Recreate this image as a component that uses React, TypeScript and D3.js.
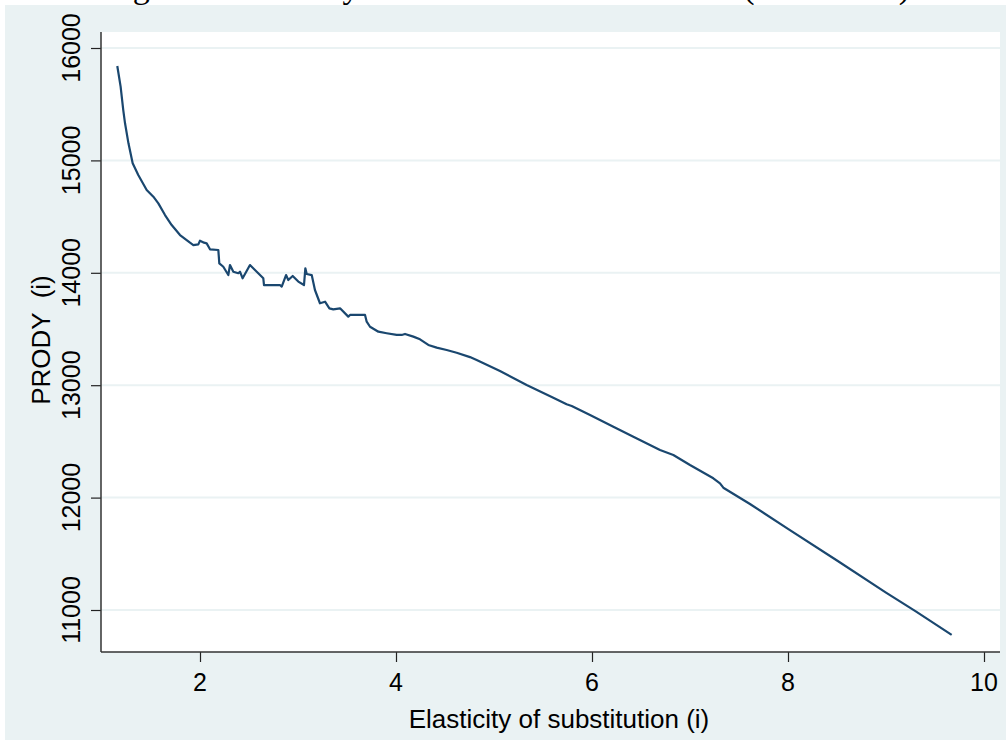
import React, { useEffect, useRef } from "react";
import * as d3 from "d3";

// values
const elasticity = [
  1.156, 1.19, 1.217, 1.235, 1.27, 1.313, 1.37, 1.456, 1.524, 1.575, 1.643,
  1.711, 1.796, 1.898, 1.932, 1.983, 2.0, 2.041, 2.068, 2.102, 2.187, 2.197,
  2.238, 2.289, 2.306, 2.34, 2.391, 2.408, 2.435, 2.51, 2.579, 2.646, 2.653,
  2.816, 2.834, 2.878, 2.901, 2.946, 3.003, 3.061, 3.075, 3.089, 3.14, 3.173,
  3.224, 3.276, 3.32, 3.36, 3.429, 3.513, 3.531, 3.684, 3.701, 3.735, 3.82,
  3.905, 4.007, 4.058, 4.092, 4.177, 4.245, 4.33, 4.415, 4.517, 4.619, 4.755,
  4.823, 5.061, 5.333, 5.605, 5.741, 5.793, 5.98, 6.218, 6.422, 6.694, 6.83,
  7.0, 7.238, 7.306, 7.34, 7.612, 8.0, 8.5, 9.0, 9.3, 9.67,
];
const prody = [
  15840, 15656, 15448, 15330, 15152, 14974, 14870, 14737, 14677, 14618, 14514,
  14425, 14336, 14268, 14247, 14253, 14286, 14268, 14262, 14209, 14203, 14084,
  14054, 13980, 14069, 14010, 13996, 14010, 13951, 14069, 14010, 13951, 13891,
  13891, 13877, 13980, 13936, 13972, 13922, 13891, 14040, 13989, 13980, 13847,
  13729, 13743, 13684, 13675, 13684, 13610, 13625, 13625, 13565, 13520, 13476,
  13462, 13447, 13447, 13456, 13432, 13408, 13358, 13334, 13313, 13289, 13250,
  13224, 13126, 13002, 12889, 12830, 12815, 12735, 12631, 12542, 12423, 12379,
  12290, 12172, 12127, 12088, 11943, 11722, 11440, 11155, 10990, 10778,
];
const xTicks = [2, 4, 6, 8, 10];
const yTicks = [11000, 12000, 13000, 14000, 15000, 16000];

const W = 1006;
const H = 740;

export default function App() {
  const svgRef = useRef<SVGSVGElement>(null);

  useEffect(() => {
    const svg = d3.select(svgRef.current);
    svg.selectAll("*").remove();

    const left = 101;
    const right = 1000;
    const top = 32;
    const bottom = 652;

    const x = d3.scaleLinear().domain([2, 10]).range([200, 984]);
    const y = d3.scaleLinear().domain([11000, 16000]).range([610, 48]);

    // cut-off caption line from the page above the figure
    svg
      .append("text")
      .attr("x", 105)
      .attr("y", -2.5)
      .attr("font-family", "Liberation Serif, serif")
      .attr("font-size", 34)
      .attr("textLength", 805)
      .attr("lengthAdjust", "spacing")
      .text("Figure 3: Elasticity of substitution and PRODY (2000-2007)");

    // graph region background
    svg
      .append("rect")
      .attr("x", 5)
      .attr("y", 5)
      .attr("width", W - 5)
      .attr("height", H - 5)
      .attr("fill", "#eaf2f3");

    // plot region
    svg
      .append("rect")
      .attr("x", left)
      .attr("y", top)
      .attr("width", right - left)
      .attr("height", bottom - top)
      .attr("fill", "#ffffff");

    // grid lines
    svg
      .append("g")
      .selectAll("line")
      .data(yTicks)
      .join("line")
      .attr("x1", left)
      .attr("x2", right)
      .attr("y1", (d) => y(d))
      .attr("y2", (d) => y(d))
      .attr("stroke", "#eaf2f3")
      .attr("stroke-width", 2);

    // y axis
    const yAxis = d3
      .axisLeft(y)
      .tickValues(yTicks)
      .tickSize(10)
      .tickPadding(0)
      .tickFormat(() => "");
    const gy = svg
      .append("g")
      .attr("transform", `translate(${left},0)`)
      .call(yAxis);
    gy.select(".domain").remove();
    gy.selectAll(".tick line").attr("stroke", "#222").attr("stroke-width", 1.2);
    gy.append("line")
      .attr("x1", 0)
      .attr("x2", 0)
      .attr("y1", top)
      .attr("y2", bottom)
      .attr("stroke", "#333")
      .attr("stroke-width", 1.5);

    svg
      .append("g")
      .selectAll("text")
      .data(yTicks)
      .join("text")
      .attr("transform", (d) => `translate(80,${y(d)}) rotate(-90)`)
      .attr("text-anchor", "middle")
      .attr("font-family", "Liberation Sans, Arial, sans-serif")
      .attr("font-size", 25)
      .attr("fill", "#000")
      .text((d) => d3.format("d")(d));

    // x axis
    const xAxis = d3
      .axisBottom(x)
      .tickValues(xTicks)
      .tickSize(10)
      .tickPadding(0)
      .tickFormat(() => "");
    const gx = svg
      .append("g")
      .attr("transform", `translate(0,${bottom})`)
      .call(xAxis);
    gx.select(".domain").remove();
    gx.selectAll(".tick line").attr("stroke", "#222").attr("stroke-width", 1.2);
    gx.append("line")
      .attr("x1", left)
      .attr("x2", right)
      .attr("y1", 0)
      .attr("y2", 0)
      .attr("stroke", "#333")
      .attr("stroke-width", 1.5);

    svg
      .append("g")
      .selectAll("text")
      .data(xTicks)
      .join("text")
      .attr("x", (d) => x(d))
      .attr("y", 691)
      .attr("text-anchor", "middle")
      .attr("font-family", "Liberation Sans, Arial, sans-serif")
      .attr("font-size", 25)
      .attr("fill", "#000")
      .text((d) => String(d));

    // axis titles
    svg
      .append("text")
      .attr("x", 559)
      .attr("y", 728)
      .attr("text-anchor", "middle")
      .attr("font-family", "Liberation Sans, Arial, sans-serif")
      .attr("font-size", 26)
      .attr("fill", "#000")
      .text("Elasticity of substitution (i)");

    svg
      .append("text")
      .attr("transform", "translate(50,340) rotate(-90)")
      .attr("text-anchor", "middle")
      .attr("font-family", "Liberation Sans, Arial, sans-serif")
      .attr("font-size", 26)
      .attr("fill", "#000")
      .style("white-space", "pre")
      .text("PRODY  (i)");

    // the line
    const pts = elasticity.map((e, i) => [e, prody[i]] as [number, number]);
    const line = d3
      .line<[number, number]>()
      .x((d) => x(d[0]))
      .y((d) => y(d[1]));

    svg
      .append("path")
      .datum(pts)
      .attr("d", line)
      .attr("fill", "none")
      .attr("stroke", "#1a476f")
      .attr("stroke-width", 2.2)
      .attr("stroke-linejoin", "round");
  }, []);

  return (
    <svg
      ref={svgRef}
      width={W}
      height={H}
      style={{ position: "absolute", left: 0, top: 0, background: "#fff" }}
    />
  );
}
